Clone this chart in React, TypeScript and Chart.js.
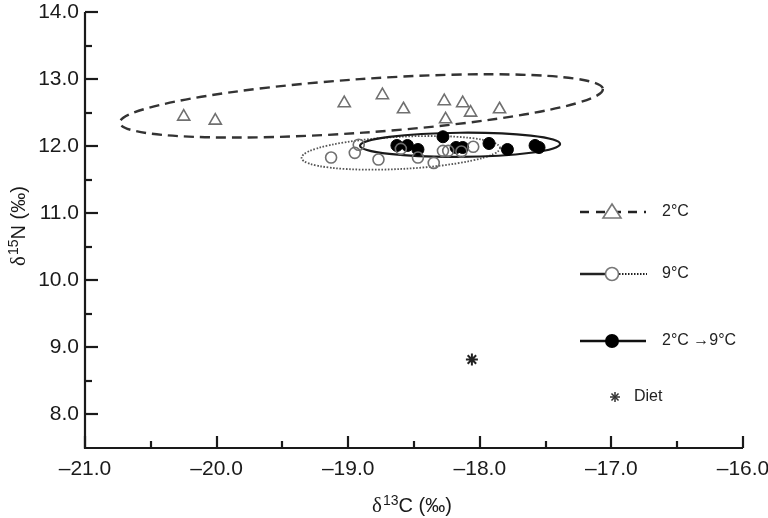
import React, { useEffect, useRef } from "react";
import { Chart, registerables } from "chart.js";

Chart.register(...registerables);

// ---- Data ----
const xTickValues = [-21, -20, -19, -18, -17, -16];
const yTickValues = [8, 9, 10, 11, 12, 13, 14];

const cold2C_x = [-20.25, -20.01, -19.03, -18.74, -18.58, -18.27, -18.26, -18.13, -18.07, -17.85];
const cold2C_y = [12.44, 12.38, 12.64, 12.76, 12.55, 12.67, 12.4, 12.64, 12.5, 12.55];

const warm9C_x = [-19.13, -18.95, -18.92, -18.77, -18.6, -18.47, -18.35, -18.28, -18.24, -18.14, -18.05];
const warm9C_y = [11.83, 11.9, 12.02, 11.8, 11.96, 11.83, 11.75, 11.93, 11.93, 11.92, 11.99];

const shift_x = [-18.63, -18.55, -18.47, -18.28, -18.18, -18.13, -17.93, -17.79, -17.58, -17.55];
const shift_y = [12.01, 12.01, 11.95, 12.14, 11.98, 11.98, 12.04, 11.95, 12.01, 11.98];

const diet_x = [-18.06];
const diet_y = [8.82];

// ellipses: [centerX, centerY, semiAxisX (‰ C), semiAxisY (‰ N), tilt (deg)]
const ellipse2C = [-18.9, 12.6, 1.84, 0.4, 4.0];
const ellipse9C = [-18.6, 11.9, 0.755, 0.24, 2.9];
const ellipseShift = [-18.15, 12.02, 0.76, 0.18, 0.5];

const legendLabels = ["2°C", "9°C", "2°C →9°C", "Diet"];
const xTitleParts = ["δ", "13", "C (‰)"];
const yTitleParts = ["δ", "15", "N (‰)"];

const FONT = "'Liberation Sans', Arial, Helvetica, sans-serif";
const SERIF = "'Liberation Serif', 'Times New Roman', serif";

const toPoints = (xs: number[], ys: number[]) => xs.map((x, i) => ({ x, y: ys[i] }));
const fmt = (v: number) => (v < 0 ? "\u2013" + Math.abs(v).toFixed(1) : v.toFixed(1));

function drawSupTitle(ctx: CanvasRenderingContext2D, parts: string[], cx: number, cy: number, size: number) {
  const fonts = [`${size + 1}px ${SERIF}`, `${Math.round(size * 0.68)}px ${FONT}`, `${size}px ${FONT}`];
  const widths = parts.map((p, i) => {
    ctx.font = fonts[i];
    return ctx.measureText(p).width;
  });
  const total = widths.reduce((a, b) => a + b, 0) + 1;
  let x = cx - total / 2;
  ctx.textBaseline = "alphabetic";
  ctx.textAlign = "left";
  const base = cy + size * 0.36;
  parts.forEach((p, i) => {
    ctx.font = fonts[i];
    ctx.fillText(p, x, i === 1 ? base - size * 0.38 : base);
    x += widths[i] + (i === 0 ? 1 : 0);
  });
}

const decorPlugin = {
  id: "decor",
  beforeDatasetsDraw(chart: any) {
    const { ctx, scales } = chart;
    const xs = scales.x;
    const ys = scales.y;
    const drawEllipse = (e: number[], dash: number[], width: number, color: string) => {
      const px = xs.getPixelForValue(e[0]);
      const py = ys.getPixelForValue(e[1]);
      const rx = Math.abs(xs.getPixelForValue(e[0] + e[2]) - px);
      const ry = Math.abs(ys.getPixelForValue(e[1] + e[3]) - py);
      ctx.save();
      ctx.beginPath();
      ctx.setLineDash(dash);
      ctx.lineWidth = width;
      ctx.strokeStyle = color;
      ctx.ellipse(px, py, rx, ry, (-e[4] * Math.PI) / 180, 0, Math.PI * 2);
      ctx.stroke();
      ctx.restore();
    };
    drawEllipse(ellipse2C, [10, 6], 2.4, "#333");
    drawEllipse(ellipse9C, [1.6, 1.6], 1.8, "#555");
    drawEllipse(ellipseShift, [], 2.2, "#1a1a1a");
  },
  afterDraw(chart: any) {
    const { ctx, scales, chartArea } = chart;
    const xs = scales.x;
    const ys = scales.y;
    ctx.save();
    ctx.strokeStyle = "#1a1a1a";
    ctx.lineWidth = 2.2;
    // inward ticks
    for (let v = xs.min; v <= xs.max + 1e-9; v += 0.5) {
      const major = Math.abs(v - Math.round(v)) < 1e-6;
      const p = Math.round(xs.getPixelForValue(v));
      ctx.beginPath();
      ctx.moveTo(p, chartArea.bottom);
      ctx.lineTo(p, chartArea.bottom - (major ? 12 : 7));
      ctx.stroke();
    }
    for (let v = 8; v <= ys.max + 1e-9; v += 0.5) {
      const major = Math.abs(v - Math.round(v)) < 1e-6;
      const p = Math.round(ys.getPixelForValue(v));
      ctx.beginPath();
      ctx.moveTo(chartArea.left, p);
      ctx.lineTo(chartArea.left + (major ? 13 : 7), p);
      ctx.stroke();
    }
    // axis lines
    ctx.beginPath();
    ctx.moveTo(chartArea.left, chartArea.top);
    ctx.lineTo(chartArea.left, chartArea.bottom);
    ctx.lineTo(chartArea.right, chartArea.bottom);
    ctx.stroke();

    // axis titles
    ctx.fillStyle = "#1a1a1a";
    drawSupTitle(ctx, xTitleParts, (chartArea.left + chartArea.right) / 2 - 2, 505, 20);
    ctx.save();
    ctx.translate(18, 226);
    ctx.rotate(-Math.PI / 2);
    drawSupTitle(ctx, yTitleParts, 0, 0, 20);
    ctx.restore();

    // legend
    const lx = chartArea.right - 163;
    const textX = lx + 82;
    const rows = [212, 274, 341, 397];
    ctx.font = `16px ${FONT}`;
    ctx.fillStyle = "#222";
    ctx.textBaseline = "middle";
    ctx.textAlign = "left";
    // row 1: dashed with triangle
    ctx.lineWidth = 2.5;
    ctx.strokeStyle = "#222";
    ctx.setLineDash([9, 7]);
    ctx.beginPath();
    ctx.moveTo(lx, rows[0]);
    ctx.lineTo(lx + 66, rows[0]);
    ctx.stroke();
    ctx.setLineDash([]);
    ctx.beginPath();
    const tx = lx + 32;
    ctx.moveTo(tx, rows[0] - 8);
    ctx.lineTo(tx + 9, rows[0] + 6);
    ctx.lineTo(tx - 9, rows[0] + 6);
    ctx.closePath();
    ctx.fillStyle = "#fff";
    ctx.fill();
    ctx.lineWidth = 1.6;
    ctx.strokeStyle = "#777";
    ctx.stroke();
    ctx.fillStyle = "#222";
    ctx.fillText(legendLabels[0], textX, rows[0]);
    // row 2: solid + open circle + dotted
    ctx.lineWidth = 2.5;
    ctx.strokeStyle = "#222";
    ctx.beginPath();
    ctx.moveTo(lx, rows[1]);
    ctx.lineTo(lx + 26, rows[1]);
    ctx.stroke();
    ctx.setLineDash([1.5, 1.5]);
    ctx.lineWidth = 2;
    ctx.beginPath();
    ctx.moveTo(lx + 39, rows[1]);
    ctx.lineTo(lx + 67, rows[1]);
    ctx.stroke();
    ctx.setLineDash([]);
    ctx.beginPath();
    ctx.arc(lx + 32, rows[1], 6.5, 0, Math.PI * 2);
    ctx.fillStyle = "#fff";
    ctx.fill();
    ctx.lineWidth = 1.6;
    ctx.strokeStyle = "#777";
    ctx.stroke();
    ctx.fillStyle = "#222";
    ctx.fillText(legendLabels[1], textX, rows[1]);
    // row 3: solid + filled circle
    ctx.lineWidth = 2.5;
    ctx.strokeStyle = "#111";
    ctx.beginPath();
    ctx.moveTo(lx, rows[2]);
    ctx.lineTo(lx + 66, rows[2]);
    ctx.stroke();
    ctx.beginPath();
    ctx.arc(lx + 32, rows[2], 7, 0, Math.PI * 2);
    ctx.fillStyle = "#000";
    ctx.fill();
    ctx.fillStyle = "#222";
    ctx.fillText(legendLabels[2], textX, rows[2]);
    // row 4: diet asterisk
    const ax = lx + 35;
    const ay = rows[3];
    ctx.strokeStyle = "#333";
    ctx.lineWidth = 1.5;
    for (let k = 0; k < 4; k++) {
      const a = (k * Math.PI) / 4;
      ctx.beginPath();
      ctx.moveTo(ax - 5 * Math.cos(a), ay - 5 * Math.sin(a));
      ctx.lineTo(ax + 5 * Math.cos(a), ay + 5 * Math.sin(a));
      ctx.stroke();
    }
    ctx.fillText(legendLabels[3], lx + 54, rows[3]);
    ctx.restore();
  },
};

export default function App() {
  const ref = useRef<HTMLCanvasElement | null>(null);
  useEffect(() => {
    if (!ref.current) return;
    const chart = new Chart(ref.current, {
      type: "scatter",
      data: {
        datasets: [
          {
            label: "2°C",
            data: toPoints(cold2C_x, cold2C_y),
            pointStyle: "triangle",
            pointRadius: 7,
            borderColor: "#707070",
            backgroundColor: "rgba(255,255,255,0)",
            borderWidth: 1.6,
          },
          {
            label: "9°C",
            data: toPoints(warm9C_x, warm9C_y),
            pointStyle: "circle",
            pointRadius: 5.5,
            borderColor: "#707070",
            backgroundColor: "rgba(255,255,255,0)",
            borderWidth: 1.6,
          },
          {
            label: "2°C →9°C",
            data: toPoints(shift_x, shift_y),
            pointStyle: "circle",
            pointRadius: 6,
            borderColor: "#000",
            backgroundColor: "#000",
            borderWidth: 1,
          },
          {
            label: "Diet",
            data: toPoints(diet_x, diet_y),
            pointStyle: "star",
            pointRadius: 6,
            borderColor: "#222",
            backgroundColor: "#222",
            borderWidth: 2,
          },
        ],
      },
      options: {
        animation: false,
        responsive: true,
        maintainAspectRatio: false,
        layout: { padding: { left: 0, top: 12, right: 25, bottom: 0 } },
        plugins: { legend: { display: false }, tooltip: { enabled: false } },
        scales: {
          x: {
            type: "linear",
            min: -21,
            max: -16,
            afterBuildTicks: (s: any) => {
              s.ticks = xTickValues.map((v) => ({ value: v }));
            },
            afterFit: (s: any) => {
              s.height = 70;
              s.paddingLeft = 0;
              s.paddingRight = 0;
            },
            grid: { display: false, drawTicks: false },
            border: { display: false },
            ticks: {
              callback: (v: any) => fmt(Number(v)),
              font: { family: FONT, size: 21 },
              color: "#1a1a1a",
              padding: 9,
              maxRotation: 0,
            },
            title: { display: false },
          },
          y: {
            type: "linear",
            min: 7.5,
            max: 14,
            afterBuildTicks: (s: any) => {
              s.ticks = yTickValues.map((v) => ({ value: v }));
            },
            afterFit: (s: any) => {
              s.width = 85;
              s.paddingTop = 0;
              s.paddingBottom = 0;
            },
            grid: { display: false, drawTicks: false },
            border: { display: false },
            ticks: {
              callback: (v: any) => fmt(Number(v)),
              font: { family: FONT, size: 21 },
              color: "#1a1a1a",
              padding: 6,
            },
            title: { display: false },
          },
        },
      },
      plugins: [decorPlugin],
    });
    return () => chart.destroy();
  }, []);
  return (
    <div style={{ position: "fixed", left: 0, top: 0, width: 768, height: 518, background: "#fff" }}>
      <canvas ref={ref} />
    </div>
  );
}
